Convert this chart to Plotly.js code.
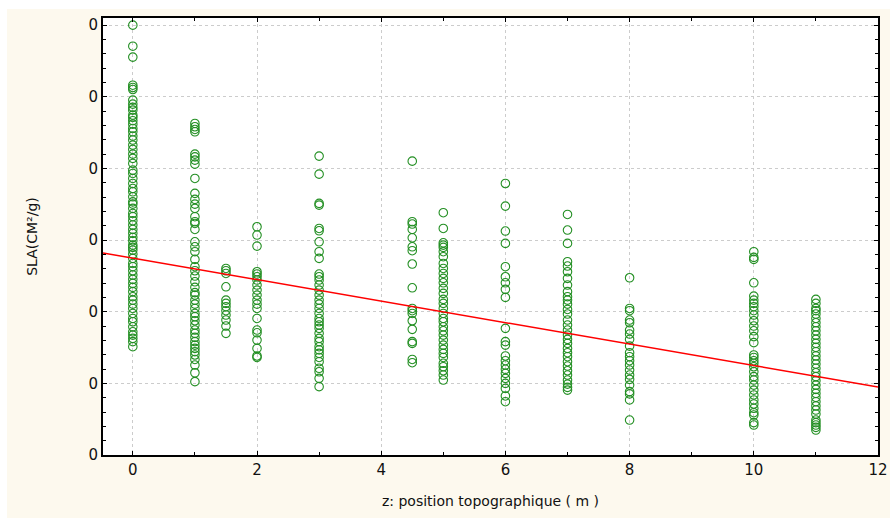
<!DOCTYPE html>
<html>
<head>
<meta charset="utf-8">
<script src="https://cdn.plot.ly/plotly-3.0.1.min.js"></script>
<style>
  html, body { margin: 0; padding: 0; background: #ffffff; width: 890px; height: 518px; overflow: hidden; }
  #chart { position: absolute; left: 7px; top: 9px; width: 883px; height: 509px; }
</style>
</head>
<body>
<div id="chart"></div>
<script>
// ---- data (SLA values read per topographic position) ----
const positions = [0, 1, 1.5, 2, 3, 4.5, 5, 6, 7, 8, 10, 11];

const sla_z0 = [300, 285.3, 277.7, 258.1, 256.5, 255.1, 247.7, 244.9, 242.6, 240.7, 237.2, 235.6, 233.3, 230.9, 227.9, 225.6, 222.6, 219.8, 216.3, 213.3, 210, 207, 203.5, 198.8, 196.5, 193, 189.5, 186, 183.7, 180.2, 176.7, 175.1, 172.1, 168.6, 166.3, 163.5, 160.5, 157.4, 154.7, 151.9, 149.5, 146.5, 144.9, 143, 140.2, 137.2, 133.7, 131.4, 128.6, 125.6, 122.6, 119.8, 117, 114, 110.5, 108.1, 105.3, 102.3, 98.8, 95.3, 93, 89.5, 86, 83.7, 81.4, 79.1, 75.6];
const sla_z1 = [231.4, 229.1, 227.2, 225.6, 210, 208.1, 205.8, 203, 193, 182.6, 178.4, 175.1, 172.1, 166.3, 162.8, 161.6, 157.4, 148.8, 145.3, 141.9, 136.5, 131.4, 128.6, 124.9, 120.9, 117, 113.3, 111.6, 108.1, 105.3, 102.3, 98.8, 96.5, 93.7, 90.7, 87.2, 84.9, 82.1, 79.1, 76.7, 74.4, 72.1, 69.8, 66.7, 62.8, 57.4, 51.2];
const sla_z1_5 = [130.2, 128.6, 126.7, 117.4, 108.1, 105.8, 103.5, 100.7, 97.7, 94.2, 90, 84.9];
const sla_z2 = [159.3, 153.5, 145.8, 127.9, 126.3, 124.4, 122.1, 118.6, 115.1, 111.6, 108.1, 105.3, 102.3, 95.3, 87.2, 85.3, 80.2, 74.4, 69.1, 68.1];
const sla_z3 = [208.6, 196, 175.6, 174.4, 158.1, 156.5, 148.8, 141.9, 137.2, 126.3, 124.4, 122.1, 118.6, 115.1, 111.6, 108.1, 105.3, 102.3, 98.8, 95.3, 93, 90.7, 88.4, 84.9, 81.4, 79.1, 75.6, 73.3, 70.9, 68.1, 65.1, 60.5, 58.1, 53.5, 47.7];
const sla_z4_5 = [205.1, 162.8, 161.2, 157.4, 151.6, 145.3, 142.6, 133.3, 116.7, 102.3, 100.7, 98.8, 93.7, 87.7, 79.1, 77.9, 66.7, 64.4];
const sla_z5 = [169.1, 158.1, 148.1, 146.5, 144.9, 141.9, 138.4, 133.7, 130.2, 126.7, 123.3, 120.2, 116.3, 112.8, 108.6, 105.8, 102.3, 98.8, 95.3, 93, 89.5, 86.7, 83.7, 80.2, 76.7, 73.7, 70.9, 68.1, 64, 61.6, 58.8, 55.8, 52.3];
const sla_z6 = [189.5, 173.7, 156.3, 147.7, 131.4, 124.4, 120.2, 115.6, 110, 88.4, 79.1, 76.7, 69.1, 65.8, 62.8, 59.8, 57, 53.5, 50, 46.5, 41.2, 37.2];
const sla_z7 = [167.9, 157, 147.7, 134.9, 131.9, 127.9, 123.3, 118.6, 114, 110.5, 108.1, 105.3, 101.6, 98.4, 94.2, 90.7, 87.2, 83.7, 80.7, 77.9, 74.4, 71.4, 68.6, 65.1, 62.1, 58.8, 55.8, 52.3, 49.5, 47.2, 45.3];
const sla_z8 = [123.7, 102.3, 100.7, 94.2, 92.3, 87.2, 84.4, 80.7, 76, 71.4, 68.6, 65.8, 62.8, 59.3, 55.8, 52.8, 48.8, 44.2, 42.6, 38.4, 24.4];
const sla_z10 = [141.9, 137.9, 136.5, 120.2, 110.9, 108.1, 105.8, 103.5, 100.7, 97.7, 93.7, 90, 86.7, 82.6, 78.4, 69.8, 68.1, 65.8, 64, 61.6, 58.1, 54.7, 52.3, 48.8, 45.3, 41.9, 38.4, 35.6, 32.6, 29.5, 27.9, 22.6, 20.9];
const sla_z11 = [108.6, 105.8, 102.3, 100.7, 98.4, 95.3, 92.3, 89.5, 86.7, 83.7, 80.7, 77.9, 75.1, 72.1, 69.1, 66.3, 63.5, 60.5, 57.4, 54.7, 51.9, 48.8, 45.8, 43, 40.2, 37.2, 34.2, 31.4, 28.6, 24.4, 22.6, 20.9, 19.3, 17.4];

const slaGroups = [sla_z0, sla_z1, sla_z1_5, sla_z2, sla_z3, sla_z4_5, sla_z5, sla_z6, sla_z7, sla_z8, sla_z10, sla_z11];

// fitted regression line: SLA = intercept + slope * z
const regIntercept = 137.4;
const regSlope = -7.5;

const xTickVals = [0, 2, 4, 6, 8, 10, 12];
const xTickText = ['0', '2', '4', '6', '8', '10', '12'];
const yTickVals = [0, 50, 100, 150, 200, 250, 300];
const yTickText = ['0', '0', '0', '0', '0', '0', '0'];

// ---- build traces ----
const xs = [], ys = [];
positions.forEach((p, i) => {
  slaGroups[i].forEach(v => { xs.push(p); ys.push(v); });
});

const xRange = [-0.48, 12];
const yRange = [0, 305];

const lineX = xRange.slice();
const lineY = lineX.map(x => regIntercept + regSlope * x);

const green = '#238f23';
const fontFam = '"DejaVu Sans", "Liberation Sans", sans-serif';

const traces = [
  {
    type: 'scatter', mode: 'markers', x: xs, y: ys,
    marker: { symbol: 'circle-open', size: 8.5, color: green, line: { width: 1.1, color: green } },
    hoverinfo: 'skip', cliponaxis: true
  },
  {
    type: 'scatter', mode: 'lines', x: lineX, y: lineY,
    line: { color: '#ff0000', width: 1.5 }, hoverinfo: 'skip'
  }
];

const layout = {
  width: 883, height: 509,
  margin: { l: 96, r: 12, t: 9, b: 63 },
  paper_bgcolor: '#fdf9ee',
  plot_bgcolor: '#ffffff',
  showlegend: false,
  font: { family: fontFam, color: '#111111', size: 14 },
  xaxis: {
    range: xRange, tickmode: 'array', tickvals: xTickVals, ticktext: xTickText,
    showgrid: true, gridcolor: '#cccccc', griddash: 'dot', gridwidth: 1,
    zeroline: false, showline: true, linecolor: '#000000', linewidth: 2, mirror: 'ticks',
    ticks: 'inside', ticklen: 4, tickcolor: '#000000', tickwidth: 1,
    minor: { dtick: 1, tick0: 0, ticks: 'inside', ticklen: 3, tickcolor: '#000000', showgrid: false },
    tickfont: { family: fontFam, size: 15, color: '#111111' },
    title: { text: 'z: position topographique ( m )', font: { family: fontFam, size: 14, color: '#111111' }, standoff: 18 }
  },
  yaxis: {
    range: yRange, tickmode: 'array', tickvals: yTickVals, ticktext: yTickText,
    showgrid: true, gridcolor: '#cccccc', griddash: 'dot', gridwidth: 1,
    zeroline: false, showline: true, linecolor: '#000000', linewidth: 2, mirror: 'ticks',
    ticks: 'inside', ticklen: 4, tickcolor: '#000000', tickwidth: 1,
    minor: { dtick: 10, tick0: 0, ticks: 'inside', ticklen: 3, tickcolor: '#000000', showgrid: false },
    tickfont: { family: fontFam, size: 15, color: '#111111' },
    title: { text: 'SLA(CM²/g)', font: { family: fontFam, size: 14, color: '#111111' }, standoff: 48 }
  }
};

Plotly.newPlot('chart', traces, layout, { staticPlot: true, displayModeBar: false });
</script>
</body>
</html>
